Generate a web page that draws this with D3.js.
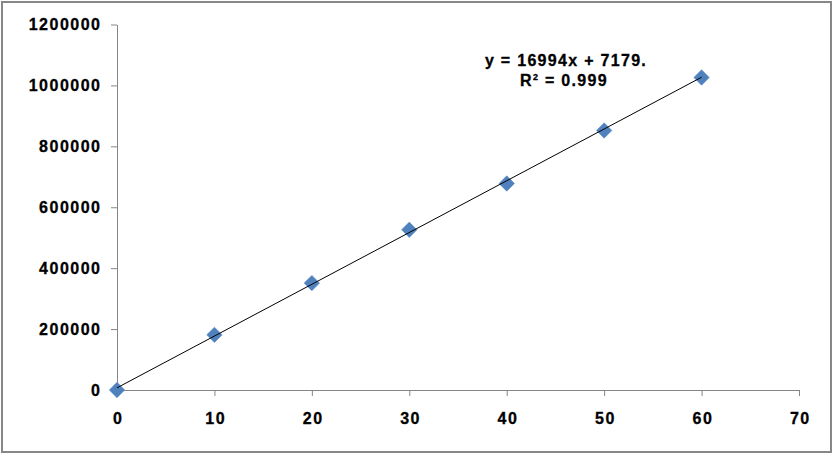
<!DOCTYPE html>
<html>
<head>
<meta charset="utf-8">
<script src="https://cdn.jsdelivr.net/npm/d3@7"></script>
<style>
  html, body { margin: 0; padding: 0; background: #fff; }
  svg { display: block; }
  text { font-family: "Liberation Sans", Arial, sans-serif; font-weight: bold; fill: #000; }
</style>
</head>
<body>
<svg id="chart" width="836" height="456"></svg>
<script>
const xValues = [0, 10, 20, 30, 40, 50, 60];
const yValues = [0, 181000, 351000, 526000, 678000, 852000, 1026000];
const xTicks = [0, 10, 20, 30, 40, 50, 60, 70];
const yTicks = [0, 200000, 400000, 600000, 800000, 1000000, 1200000];
const slope = 16994;
const intercept = 7179;
const equationLine1 = "y = 16994x + 7179.";
const equationLine2a = "R";
const equationLine2sup = "2";
const equationLine2b = " = 0.999";

const svg = d3.select("#chart");
const axisColor = "#868686";
const fontSize = 16;
const spacing = "1.5px";

svg.append("rect")
  .attr("x", 2).attr("y", 2).attr("width", 829).attr("height", 450)
  .attr("fill", "#fff").attr("stroke", "#878787").attr("stroke-width", 2);

const x = d3.scaleLinear().domain([0, 70]).range([117, 799]);
const y = d3.scaleLinear().domain([0, 1200000]).range([390, 24.5]);

const yAxis = svg.append("g")
  .attr("transform", `translate(${x(0)},0)`)
  .call(d3.axisLeft(y).tickValues(yTicks).tickFormat(d3.format("d")).tickSize(6).tickSizeOuter(0).tickPadding(9.5));
const xAxis = svg.append("g")
  .attr("transform", `translate(0,${y(0)})`)
  .call(d3.axisBottom(x).tickValues(xTicks).tickFormat(d3.format("d")).tickSize(6).tickSizeOuter(0).tickPadding(16.5));

[xAxis, yAxis].forEach(g => {
  g.select(".domain").attr("stroke", axisColor).attr("stroke-width", 1);
  g.selectAll(".tick line").attr("stroke", axisColor);
  g.selectAll(".tick text")
    .attr("font-family", '"Liberation Sans", Arial, sans-serif')
    .attr("font-weight", "bold")
    .attr("font-size", fontSize)
    .attr("letter-spacing", spacing)
    .attr("fill", "#000")
    .attr("stroke", "#000")
    .attr("stroke-width", 0.3);
});
xAxis.selectAll(".tick text").attr("dx", 0.8);

// markers
svg.append("g").selectAll("path")
  .data(xValues.map((v, i) => [v, yValues[i]]))
  .join("path")
  .attr("d", d3.symbol(d3.symbolSquare, 118))
  .attr("transform", d => `translate(${x(d[0])},${y(d[1])}) rotate(45)`)
  .attr("fill", "#4F81BD")
  .attr("stroke", "#5a8ac6")
  .attr("stroke-width", 0.6);

// trendline
const xMin = d3.min(xValues), xMax = d3.max(xValues);
svg.append("line")
  .attr("x1", x(xMin)).attr("y1", y(slope * xMin + intercept))
  .attr("x2", x(xMax)).attr("y2", y(slope * xMax + intercept))
  .attr("stroke", "#000").attr("stroke-width", 1);

// equation
svg.append("text")
  .attr("x", 566).attr("y", 66)
  .attr("text-anchor", "middle")
  .attr("font-size", fontSize)
  .attr("letter-spacing", "1.3px")
  .attr("stroke", "#000").attr("stroke-width", 0.3)
  .text(equationLine1);
const t2 = svg.append("text")
  .attr("x", 564).attr("y", 86)
  .attr("text-anchor", "middle")
  .attr("font-size", fontSize)
  .attr("letter-spacing", "1.3px")
  .attr("stroke", "#000").attr("stroke-width", 0.3);
t2.append("tspan").text(equationLine2a);
t2.append("tspan").attr("font-size", 9).attr("dy", -6).text(equationLine2sup);
t2.append("tspan").attr("dy", 6).text(equationLine2b);
</script>
</body>
</html>
